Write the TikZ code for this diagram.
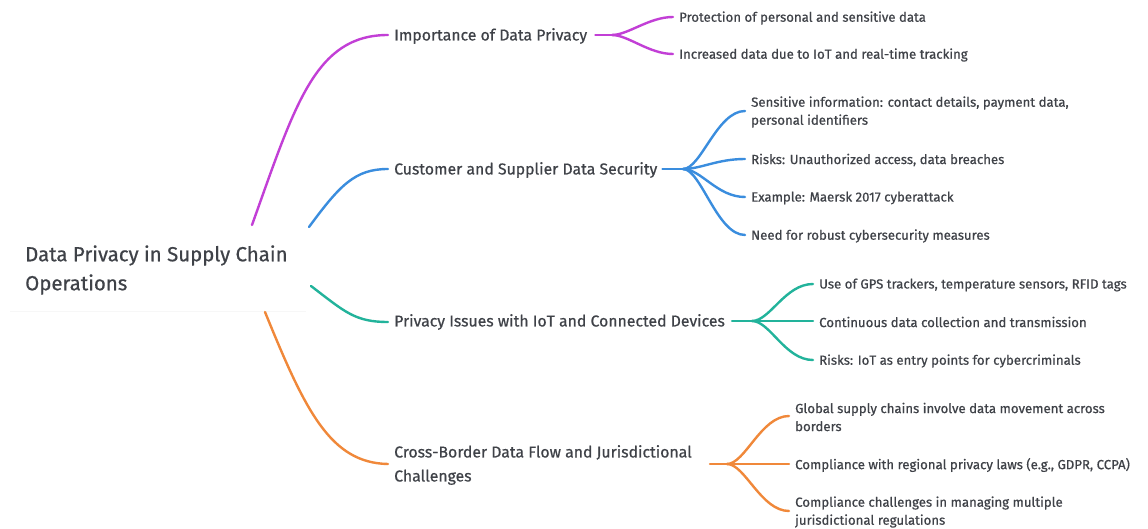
\documentclass[tikz,border=0pt]{standalone}
\usepackage{fontspec}
\setmainfont{Fira Sans}[BoldFont={Fira Sans}, BoldFeatures={FakeBold=0.6}]
\begin{document}
\begin{tikzpicture}[x=1pt,y=-1pt,
  txt/.style={text=textgray, inner sep=0pt, anchor=west, align=left},
  leaf/.style={txt, font=\fontsize{13.2}{18}\selectfont\bfseries},
  branch/.style={txt, font=\fontsize{15.8}{24}\selectfont\bfseries},
  conn/.style={line width=2.4pt, line cap=round},
]
\definecolor{textgray}{HTML}{3F4248}
\definecolor{cmag}{HTML}{C23FD6}
\definecolor{cblue}{HTML}{3A8DDE}
\definecolor{cteal}{HTML}{22B39B}
\definecolor{corange}{HTML}{F0883A}
\useasboundingbox (0,0) rectangle (1148,529);
\fill[white] (0,0) rectangle (1148,529);
% root
\fill[gray!6] (10,310.5) rectangle (306,311.5);
\node[txt, font=\fontsize{20.4}{29}\selectfont\bfseries] (root) at (25,270) {Data Privacy in Supply Chain\\Operations};
\coordinate (rm) at (252,225);
\coordinate (rb) at (309,227);
\coordinate (rt) at (311,286);
\coordinate (ro) at (265,312);
% branches
\node[branch] (b1) at (394,36) {Importance of Data Privacy};
\node[branch] (b2) at (394,170) {Customer and Supplier Data Security};
\node[branch] (b3) at (394,322) {Privacy Issues with IoT and Connected Devices};
\node[branch] (b4) at (394,465) {Cross-Border Data Flow and Jurisdictional\\Challenges};
\draw[conn,cmag] (rm) .. controls (295,105) and (315,35) .. ([xshift=-6pt,yshift=1pt]b1.west);
\draw[conn,cblue] (rb) .. controls (340,185) and (355,169) .. ([xshift=-6pt,yshift=1pt]b2.west);
\draw[conn,cteal] (rt) .. controls (345,312) and (355,322) .. ([xshift=-6pt]b3.west);
\draw[conn,corange] (ro) .. controls (305,410) and (330,463) .. ([xshift=-6pt,yshift=1pt]b4.west);
% leaves
\node[leaf] (l11) at (679,18) {Protection of personal and sensitive data};
\node[leaf] (l12) at (679,55) {Increased data due to IoT and real-time tracking};
\node[leaf] (l21) at (751,112) {Sensitive information: contact details, payment data,\\personal identifiers};
\node[leaf] (l22) at (751,160) {Risks: Unauthorized access, data breaches};
\node[leaf] (l23) at (751,198) {Example: Maersk 2017 cyberattack};
\node[leaf] (l24) at (751,236) {Need for robust cybersecurity measures};
\node[leaf] (l31) at (819,285) {Use of GPS trackers, temperature sensors, RFID tags};
\node[leaf] (l32) at (819,322) {Continuous data collection and transmission};
\node[leaf] (l33) at (819,361) {Risks: IoT as entry points for cybercriminals};
\node[leaf] (l41) at (795,417) {Global supply chains involve data movement across\\borders};
\node[leaf] (l42) at (795,465) {Compliance with regional privacy laws (e.g., GDPR, CCPA)};
\node[leaf] (l43) at (795,512) {Compliance challenges in managing multiple\\jurisdictional regulations};
% forks
\coordinate (j1) at (612,35);
\coordinate (j2) at (683,169);
\coordinate (j3) at (752,321);
\coordinate (j4) at (727,464);
\coordinate (s4) at (710,464);
\draw[conn,cmag] ([xshift=8pt,yshift=1pt]b1.east) -- (j1);
\foreach \l in {l11,l12}{
  \draw[conn,cmag] (j1) .. controls ([xshift=16pt]j1) and ([xshift=-30pt,yshift=1pt]\l.west) .. ([xshift=-6pt,yshift=1pt]\l.west);
}
\draw[conn,cblue] ([xshift=5pt,yshift=1pt]b2.east) -- (j2);
\foreach \l in {l21,l22,l23,l24}{
  \draw[conn,cblue] (j2) .. controls ([xshift=18pt]j2) and ([xshift=-34pt,yshift=1pt]\l.west) .. ([xshift=-6pt,yshift=1pt]\l.west);
}
\draw[conn,cteal] ([xshift=7pt,yshift=1pt]b3.east) -- (j3);
\foreach \l in {l31,l32,l33}{
  \draw[conn,cteal] (j3) .. controls ([xshift=18pt]j3) and ([xshift=-34pt,yshift=1pt]\l.west) .. ([xshift=-6pt,yshift=1pt]\l.west);
}
\draw[conn,corange] (s4) -- (j4);
\foreach \l in {l41,l42,l43}{
  \draw[conn,corange] (j4) .. controls ([xshift=18pt]j4) and ([xshift=-34pt,yshift=1pt]\l.west) .. ([xshift=-6pt,yshift=1pt]\l.west);
}
\end{tikzpicture}
\end{document}
